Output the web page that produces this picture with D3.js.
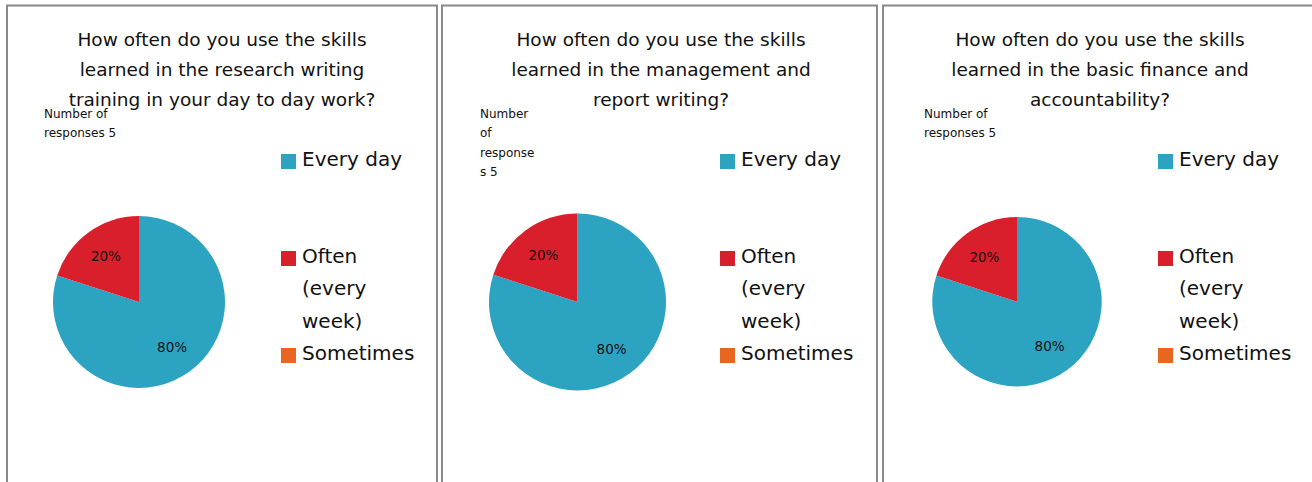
<!DOCTYPE html>
<html>
<head>
<meta charset="utf-8">
<script src="https://cdn.jsdelivr.net/npm/d3@7"></script>
<style>
  body { margin: 0; background: #fff; }
  svg { display: block; font-family: "DejaVu Sans", sans-serif; }
  .title { font-size: 18.5px; fill: #111; }
  .note { font-size: 12px; fill: #111; }
  .legend text { font-size: 20px; fill: #111; }
  .slice-label { font-size: 13.5px; fill: #111; }
</style>
</head>
<body>
<div id="chart-root"></div>
<script>
// ---- data ----
var categories = ["Every day", "Often (every week)", "Sometimes"];
var colors = ["#2ca3c0", "#d91f2b", "#e8661f"];

var titles = [
    ["How often do you use the skills", "learned in the research writing", "training in your day to day work?"],
    ["How often do you use the skills", "learned in the management and", "report writing?"],
    ["How often do you use the skills", "learned in the basic finance and", "accountability?"]
];

var notes = [
    ["Number of", "responses 5"],
    ["Number", "of", "response", "s 5"],
    ["Number of", "responses 5"]
];

// responses per category (5 respondents each)
var researchWriting = [4, 1, 0];
var managementReport = [4, 1, 0];
var financeAccount = [4, 1, 0];
var seriesValues = [researchWriting, managementReport, financeAccount];

// ---- layout ----
var width = 1312, height = 482;
var panels = [
    { left: 7, right: 437, cx: 139, cy: 302, r: 86, titleX: 222, noteX: 44, legendX: 281 },
    { left: 442, right: 877, cx: 577.5, cy: 302, r: 88.5, titleX: 661, noteX: 480, legendX: 720 },
    { left: 883, right: 1330, cx: 1017, cy: 301.7, r: 84.7, titleX: 1100, noteX: 924, legendX: 1158 }
];

var svg = d3.select("#chart-root")
    .append("svg")
    .attr("width", width)
    .attr("height", height);

svg.append("rect")
    .attr("width", width)
    .attr("height", height)
    .attr("fill", "#fff");

var color = d3.scaleOrdinal().domain(categories).range(colors);
var pie = d3.pie().sort(null).value(function(d) { return d.value; });
var total = d3.sum(researchWriting);

// wrap legend text to a max width
function wrap(textSel, maxWidth, lineHeight) {
    textSel.each(function() {
        var text = d3.select(this),
            words = text.text().split(/\s+/),
            x = text.attr("x"),
            line = [],
            lineNo = 0,
            tspan = text.text(null).append("tspan").attr("x", x).attr("dy", 0);
        words.forEach(function(w) {
            line.push(w);
            tspan.text(line.join(" "));
            if (tspan.node().getComputedTextLength() > maxWidth && line.length > 1) {
                line.pop();
                tspan.text(line.join(" "));
                line = [w];
                lineNo++;
                tspan = text.append("tspan").attr("x", x).attr("dy", lineHeight).text(w);
            }
        });
    });
}

panels.forEach(function(p, i) {
    var g = svg.append("g").attr("class", "panel");

    // panel frame (left, top, right)
    g.append("path")
        .attr("d", "M" + p.left + "," + height + "V5.5H" + p.right + "V" + height)
        .attr("fill", "none")
        .attr("stroke", "#8a8a8a")
        .attr("stroke-width", 2);

    // title
    g.append("text")
        .attr("class", "title")
        .attr("text-anchor", "middle")
        .selectAll("tspan")
        .data(titles[i])
        .enter().append("tspan")
        .attr("x", p.titleX)
        .attr("y", function(d, k) { return 46 + k * 30; })
        .text(function(d) { return d; });

    // number of responses note
    g.append("text")
        .attr("class", "note")
        .selectAll("tspan")
        .data(notes[i])
        .enter().append("tspan")
        .attr("x", p.noteX)
        .attr("y", function(d, k) { return 117.5 + k * 19.5; })
        .text(function(d) { return d; });

    // pie
    var data = categories.map(function(c, k) { return { name: c, value: seriesValues[i][k] }; });
    var arcs = pie(data);
    var arc = d3.arc().innerRadius(0).outerRadius(p.r);
    var labelArc = d3.arc().innerRadius(p.r * 0.655).outerRadius(p.r * 0.655);

    var pg = g.append("g").attr("transform", "translate(" + p.cx + "," + p.cy + ")");
    pg.selectAll("path")
        .data(arcs.filter(function(d) { return d.value > 0; }))
        .enter().append("path")
        .attr("d", arc)
        .attr("fill", function(d) { return color(d.data.name); });

    pg.selectAll("text")
        .data(arcs.filter(function(d) { return d.value > 0; }))
        .enter().append("text")
        .attr("class", "slice-label")
        .attr("transform", function(d) { return "translate(" + labelArc.centroid(d) + ")"; })
        .attr("text-anchor", "middle")
        .attr("dy", "0.36em")
        .text(function(d) { return d3.format(".0%")(d.value / total); });

    // legend
    var lg = g.append("g").attr("class", "legend");
    var item = lg.selectAll("g")
        .data(categories)
        .enter().append("g");
    item.append("rect")
        .attr("x", p.legendX)
        .attr("y", function(d, k) { return 166 + k * 97 - 12; })
        .attr("width", 15)
        .attr("height", 15)
        .attr("fill", function(d) { return color(d); });
    item.append("text")
        .attr("x", p.legendX + 21)
        .attr("y", function(d, k) { return 166 + k * 97; })
        .text(function(d) { return d; })
        .call(wrap, 115, 32.3);
});
</script>
</body>
</html>
